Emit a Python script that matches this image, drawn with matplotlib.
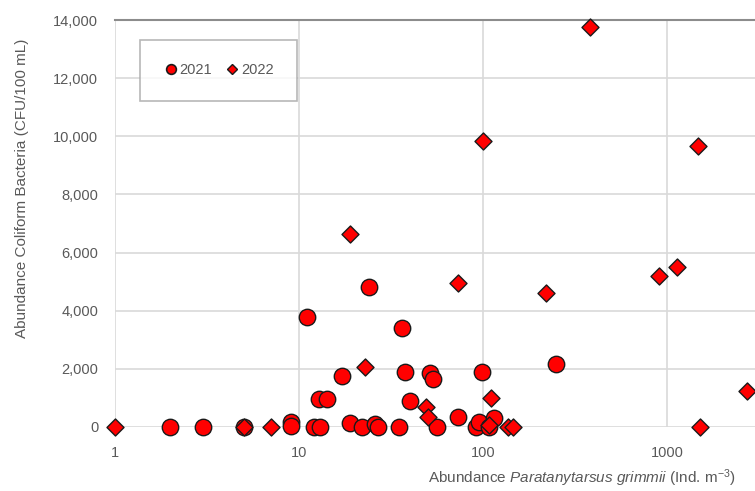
import matplotlib
matplotlib.use("Agg")
import matplotlib.pyplot as plt
from matplotlib.ticker import FuncFormatter, FixedLocator
from matplotlib.lines import Line2D

plt.rcParams['font.family'] = ['Liberation Sans', 'DejaVu Sans']
plt.rcParams['mathtext.fontset'] = 'custom'
plt.rcParams['mathtext.rm'] = 'Liberation Sans'
plt.rcParams['mathtext.it'] = 'Liberation Sans:italic'

# 2021 data (circles)
x2021 = [2, 3, 5, 9, 9, 12, 13, 11, 12.8, 14.1, 17.1, 24, 36.2, 37.4, 51.5, 53.3, 99,
         40, 73.4, 19, 22, 26, 27, 35, 56.5, 92, 95, 108, 115, 248]
y2021 = [0, 0, 0, 180, 40, 0, 0, 3800, 950, 950, 1750, 4800, 3400, 1900, 1850, 1650, 1900,
         900, 340, 150, 0, 90, 0, 0, 0, 0, 180, 0, 320, 2150]

# 2022 data (diamonds)
x2022 = [1, 5, 7, 18.8, 22.9, 48.8, 50, 73.2, 100, 108, 110, 137, 145, 220, 381, 908,
         1130, 1473, 1500, 2710]
y2022 = [0, 0, 0, 6650, 2050, 700, 350, 4950, 9850, 70, 1000, 0, 0, 4600, 13750, 5200,
         5500, 9650, 0, 1250]

yticks = [0, 2000, 4000, 6000, 8000, 10000, 12000, 14000]
xticks = [1, 10, 100, 1000]

fig = plt.figure(figsize=(7.55, 4.91), dpi=100)
ax = fig.add_axes([115/755, 64/491, 640/755, 407/491])
ax.set_xscale('log')
ax.set_xlim(1, 3000)
ax.set_ylim(0, 14000)

ax.yaxis.set_major_locator(FixedLocator(yticks))
ax.xaxis.set_major_locator(FixedLocator(xticks))
ax.xaxis.set_minor_locator(FixedLocator([]))
ax.yaxis.set_major_formatter(FuncFormatter(lambda v, p: f"{int(v):,}"))
ax.xaxis.set_major_formatter(FuncFormatter(lambda v, p: f"{int(round(v))}"))

ax.grid(True, which='major', color='#d9d9d9', lw=1.2, zorder=0)
ax.set_axisbelow(True)
for s in ['left', 'right', 'bottom']:
    ax.spines[s].set_visible(False)
ax.spines['top'].set_color('#8c8c8c')
ax.spines['top'].set_linewidth(1.5)
ax.tick_params(length=0, labelsize=10.5, colors='#595959')
ax.tick_params(axis='x', pad=14)
ax.tick_params(axis='y', pad=12)

ax.scatter(x2021, y2021, s=140, marker='o', facecolor='#ff0000', edgecolor='#1a1a1a',
           linewidth=1.0, zorder=3, clip_on=False)
ax.scatter(x2022, y2022, s=75, marker='D', facecolor='#ff0000', edgecolor='#1a1a1a',
           linewidth=1.0, zorder=4, clip_on=False)

handles = [Line2D([], [], marker='o', ls='none', markersize=7, markerfacecolor='#ff0000',
                  markeredgecolor='#1a1a1a', markeredgewidth=1.2, label='2021'),
           Line2D([], [], marker='D', ls='none', markersize=5, markerfacecolor='#ff0000',
                  markeredgecolor='#1a1a1a', markeredgewidth=1.0, label='2022')]
leg = ax.legend(handles=handles, loc='upper left', bbox_to_anchor=(25/640, 1-20/407),
                ncol=2, frameon=True, fancybox=False, handletextpad=0.1, columnspacing=0.9,
                borderpad=1.6, handlelength=1.0, fontsize=10.5, labelcolor='#595959',
                borderaxespad=0)
leg.get_frame().set_edgecolor('#a6a6a6')
leg.get_frame().set_linewidth(1.2)

ax.set_ylabel('Abundance Coliform Bacteria (CFU/100 mL)', fontsize=11, color='#595959')
ax.yaxis.set_label_coords(-86/640, (427-188)/407)
fig.text(582/755, 1-478/491, r'Abundance $\mathit{Paratanytarsus\ grimmii}$ (Ind. m$^{-3}$)',
         ha='center', va='center', fontsize=11, color='#595959')

fig.savefig('out.png', dpi=100)
